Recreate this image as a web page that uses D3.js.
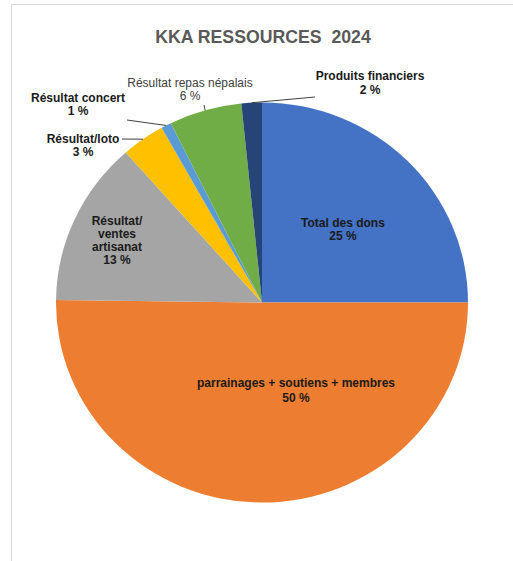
<!DOCTYPE html>
<html>
<head>
<meta charset="utf-8">
<script src="https://cdn.jsdelivr.net/npm/d3@7"></script>
<style>
  html, body { margin: 0; padding: 0; background: #ffffff; }
  svg { display: block; }
</style>
</head>
<body>
<svg id="chart" width="513" height="561"></svg>
<script>
// ---- Data ----
const title = "KKA RESSOURCES  2024";
const categories = [
  "Total des dons",
  "parrainages + soutiens + membres",
  "Résultat/ventes artisanat",
  "Résultat/loto",
  "Résultat concert",
  "Résultat repas népalais",
  "Produits financiers"
];
const values = [25.0, 50.2, 13.3, 3.4, 0.8, 5.7, 1.6];
const colors = ["#4472C4", "#ED7D31", "#A5A5A5", "#FFC000", "#5B9BD5", "#70AD47", "#264478"];

// ---- Layout (label placement, styles) ----
const labelLayout = [
  { lines: ["Total des dons"], x: 343, y: 227, lh: 12.8, bold: true, leader: null },
  { lines: ["parrainages + soutiens + membres"], x: 296, y: 387, lh: 14.5, bold: true, leader: null },
  { lines: ["Résultat/", "ventes", "artisanat"], x: 117, y: 225, lh: 13, bold: true, leader: null },
  { lines: ["Résultat/loto"], x: 83, y: 143, lh: 12.5, bold: true, leader: [122, 139] },
  { lines: ["Résultat concert"], x: 78, y: 102, lh: 13, bold: true, leader: [127, 120] },
  { lines: ["Résultat repas népalais"], x: 190, y: 87, lh: 13.2, bold: false, leader: [204, 105] },
  { lines: ["Produits financiers"], x: 370, y: 80, lh: 14, bold: true, leader: [315, 97] }
];

const W = 513, H = 561;
const cx = 262, cy = 302.5, R = 200, sx = 1.03;

const svg = d3.select("#chart");

// chart area border
svg.append("rect")
  .attr("x", 11.5).attr("y", 4.5)
  .attr("width", 700).attr("height", 700)
  .attr("fill", "none")
  .attr("stroke", "#d9d9d9")
  .attr("stroke-width", 1);

// title
svg.append("text")
  .attr("x", 263).attr("y", 43)
  .attr("text-anchor", "middle")
  .style("white-space", "pre")
  .attr("font-family", "Liberation Sans, Arial, sans-serif")
  .attr("font-weight", "bold")
  .attr("font-size", 17.7)
  .attr("fill", "#595959")
  .text(title);

const total = d3.sum(values);
const pie = d3.pie().sort(null).value(d => d).startAngle(0).endAngle(2 * Math.PI);
const arcs = pie(values);
const arc = d3.arc().innerRadius(0).outerRadius(R);

const g = svg.append("g")
  .attr("transform", `translate(${cx},${cy}) scale(${sx},1)`);

g.selectAll("path")
  .data(arcs)
  .join("path")
  .attr("d", arc)
  .attr("fill", (d, i) => colors[i]);

// leader lines: from label anchor to the outer edge at slice mid-angle
const edgePoint = d => {
  const a = (d.startAngle + d.endAngle) / 2;
  return [cx + sx * R * Math.sin(a), cy - R * Math.cos(a)];
};

arcs.forEach((d, i) => {
  const L = labelLayout[i];
  if (!L.leader) return;
  const p = edgePoint(d);
  svg.append("line")
    .attr("x1", L.leader[0]).attr("y1", L.leader[1])
    .attr("x2", p[0]).attr("y2", p[1])
    .attr("stroke", "#404040")
    .attr("stroke-width", 1);
});

// labels
arcs.forEach((d, i) => {
  const L = labelLayout[i];
  const pct = Math.round(values[i] / total * 100) + " %";
  const lines = L.lines.concat([pct]);
  const t = svg.append("text")
    .attr("text-anchor", "middle")
    .attr("font-family", "Liberation Sans, Arial, sans-serif")
    .attr("font-weight", L.bold ? "bold" : "normal")
    .attr("font-size", 12)
    .attr("fill", L.bold ? "#1a1a1a" : "#404040");
  lines.forEach((s, k) => {
    t.append("tspan")
      .attr("x", L.x)
      .attr("y", L.y + k * L.lh)
      .text(s);
  });
});
</script>
</body>
</html>
